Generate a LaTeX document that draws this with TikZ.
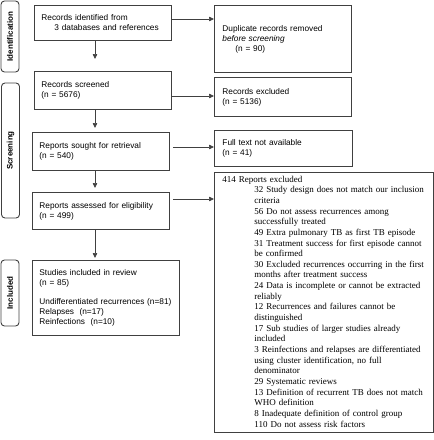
\documentclass[tikz,border=0pt]{standalone}
\usepackage{fontspec}
\setmainfont{Liberation Serif}
\setsansfont{Liberation Sans}
\usetikzlibrary{arrows.meta}
\definecolor{ln}{gray}{0.25}
\tikzset{
  box/.style={draw=ln, line width=0.9pt, anchor=north west, align=left, inner xsep=7pt, inner ysep=0pt,
    font=\sffamily\fontsize{8.3}{9.9}\selectfont},
  serifbox/.style={draw=ln, line width=0.9pt, anchor=north west, align=left, inner xsep=8pt, inner ysep=0pt,
    font=\rmfamily\fontsize{9}{10.65}\selectfont},
  side/.style={draw=ln, line width=0.9pt, rounded corners=3.5pt, rotate=90, inner sep=0pt,
    font=\sffamily\bfseries\fontsize{8}{9}\selectfont},
  arr/.style={draw=ln, line width=0.7pt, -{Triangle[length=5pt,width=4.5pt]}},
}
\newcommand{\ind}{\hspace*{32pt}}
\begin{document}
\begin{tikzpicture}[x=1pt,y=-1pt]
\useasboundingbox (0,0) rectangle (434,440);
% phase labels
\node[side, minimum width=71pt, minimum height=18pt] (lid) at (10,36.5) {Identification};
\node[side, minimum width=135pt, minimum height=18pt] (lsc) at (10.5,150.5) {Screening};
\node[side, minimum width=66pt, minimum height=18pt] (lin) at (10,293) {Included};
% left column
\node[box, minimum width=137pt, minimum height=35pt, text width=123pt] (ident) at (34,5)
  {Records identified from\\\hspace*{13pt}3 databases and references};
\node[box, minimum width=137pt, minimum height=38pt, text width=123pt] (screen) at (34,71)
  {Records screened\\(n = 5676)};
\node[box, minimum width=137pt, minimum height=38pt, text width=123pt] (sought) at (32,132)
  {Reports sought for retrieval\\(n = 540)};
\node[box, minimum width=137pt, minimum height=37pt, text width=123pt] (assess) at (32,192)
  {Reports assessed for eligibility\\(n = 499)};
\node[box, minimum width=147pt, minimum height=75pt, text width=133pt] (incl) at (32,260)
  {Studies included in review\\(n = 85)\\[9.7pt]Undifferentiated recurrences (n=81)\\Relapses\ \ (n=17)\\Reinfections\ \ (n=10)};
% right column
\node[box, inner xsep=8pt, minimum width=137pt, minimum height=67pt, text width=121pt] (dup) at (214,5)
  {Duplicate records removed\\\textit{before screening}\\\hspace*{13pt}(n = 90)};
\node[box, inner xsep=8pt, minimum width=137pt, minimum height=39pt, text width=121pt] (excl) at (214,77)
  {Records excluded\\(n = 5136)};
\node[box, inner xsep=8pt, minimum width=138pt, minimum height=36pt, text width=122pt] (full) at (214,130)
  {Full text not available\\(n = 41)};
\node[serifbox, minimum width=219pt, minimum height=260pt, text width=203pt] (rex) at (214,172)
  {\begin{tabular}{@{}l@{}}
   414 Reports excluded\\
   \ind 32 Study design does not match our inclusion\\
   \ind criteria\\
   \ind 56 Do not assess recurrences among\\
   \ind successfully treated\\
   \ind 49 Extra pulmonary TB as first TB episode\\
   \ind 31 Treatment success for first episode cannot\\
   \ind be confirmed\\
   \ind 30 Excluded recurrences occurring in the first\\
   \ind months after treatment success\\
   \ind 24 Data is incomplete or cannot be extracted\\
   \ind reliably\\
   \ind 12 Recurrences and failures cannot be\\
   \ind distinguished\\
   \ind 17 Sub studies of larger studies already\\
   \ind included\\
   \ind 3 Reinfections and relapses are differentiated\\
   \ind using cluster identification, no full\\
   \ind denominator\\
   \ind 29 Systematic reviews\\
   \ind 13 Definition of recurrent TB does not match\\
   \ind WHO definition\\
   \ind 8 Inadequate definition of control group\\
   \ind 110 Do not assess risk factors
   \end{tabular}};
% horizontal arrows
\draw[arr] (ident.east |- 0,19) -- (dup.west |- 0,19);
\draw[arr] (screen.east |- 0,96) -- (excl.west |- 0,96);
\draw[arr] ([xshift=3pt]sought.east |- 0,147) -- (full.west |- 0,147);
\draw[arr] ([xshift=3pt]assess.east |- 0,199) -- (rex.west |- 0,199);
% vertical arrows
\draw[arr] (ident.south -| 95,0) -- ([yshift=12pt]screen.north -| 95,0);
\draw[arr] (screen.south -| 95,0) -- ([yshift=4pt]sought.north -| 95,0);
\draw[arr] (sought.south -| 95,0) -- ([yshift=4pt]assess.north -| 95,0);
\draw[arr] (assess.south -| 95,0) -- ([yshift=2pt]incl.north -| 95,0);
\end{tikzpicture}
\end{document}
